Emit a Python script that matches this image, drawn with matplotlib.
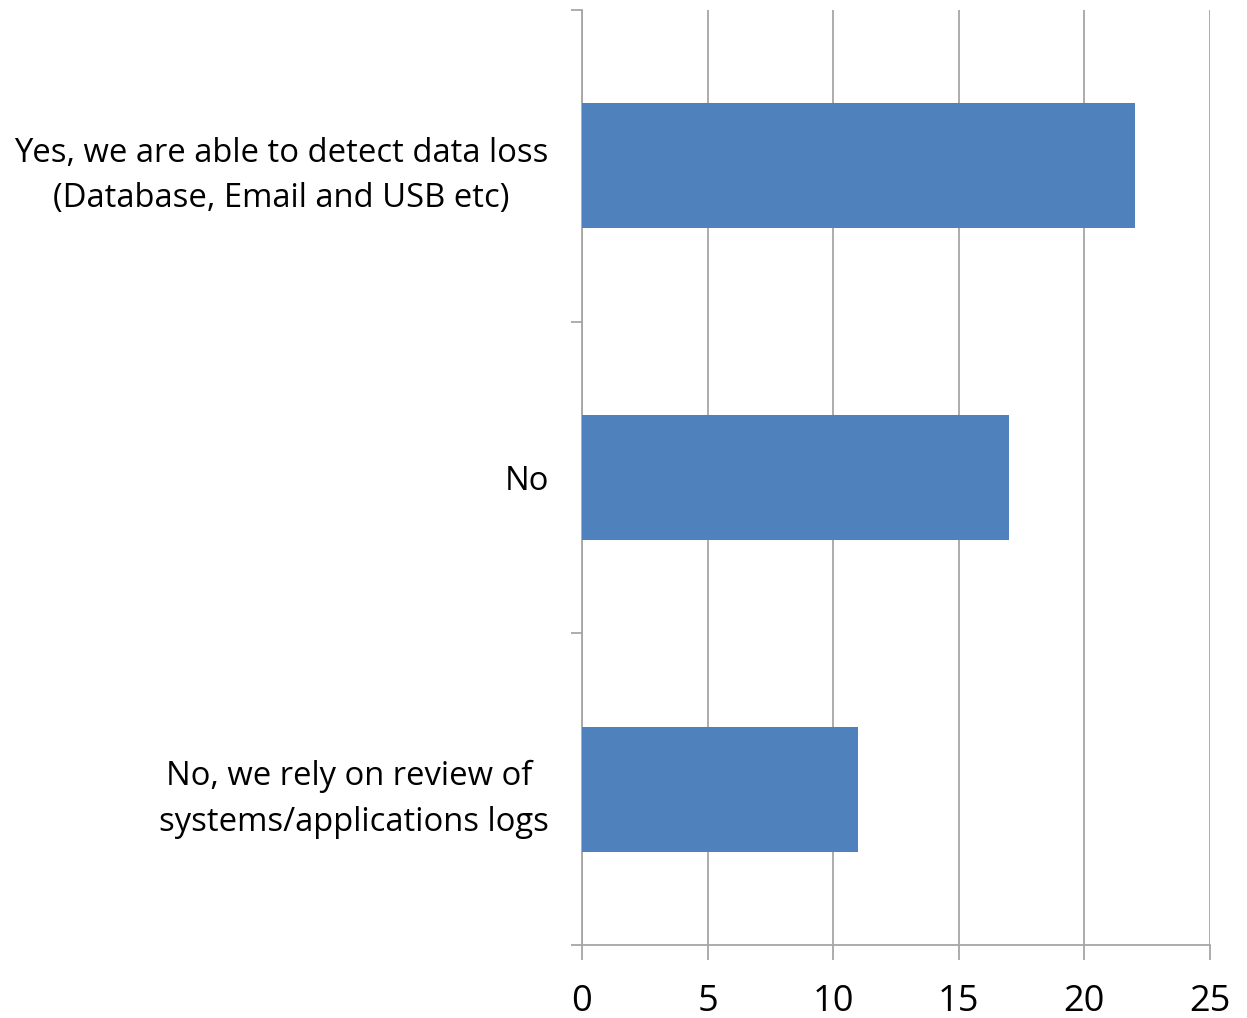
import matplotlib
matplotlib.use('Agg')
import matplotlib.pyplot as plt

categories = ['Yes, we are able to detect data loss\n(Database, Email and USB etc)',
              'No',
              'No, we rely on review of \nsystems/applications logs']
counts = [22, 17, 11]
x_ticks = [0, 5, 10, 15, 20, 25]

plt.rcParams['font.family'] = ['Open Sans', 'DejaVu Sans']

bar_color = '#4F81BD'
line_color = '#A6A6A6'

fig = plt.figure(figsize=(12.47, 10.18), dpi=100)
ax = fig.add_axes([0.4667, 0.0717, 0.5036, 0.9185])

pos = list(range(len(categories)))
ax.barh(pos, counts, height=0.4, color=bar_color, zorder=3)

ax.set_xlim(0, 25)
ax.set_ylim(2.5, -0.5)
ax.set_xticks(x_ticks)
ax.set_xticklabels([str(t) for t in x_ticks], fontsize=26)
ax.xaxis.grid(True, color=line_color, linewidth=1.3, zorder=0)

ax.set_yticks(pos)
ax.set_yticklabels(categories, fontsize=23.6, multialignment='center', linespacing=1.5)
ax.set_yticks([-0.5, 0.5, 1.5, 2.5], minor=True)
ax.tick_params(axis='y', which='major', length=0, pad=24)
ax.tick_params(axis='y', which='minor', length=8, width=1.3, color=line_color, direction='out')
ax.tick_params(axis='x', length=11, width=1.3, color=line_color, pad=17)

for side in ['top', 'right']:
    ax.spines[side].set_visible(False)
for side in ['left', 'bottom']:
    ax.spines[side].set_color(line_color)
    ax.spines[side].set_linewidth(1.3)

fig.savefig('out.png', dpi=100)
